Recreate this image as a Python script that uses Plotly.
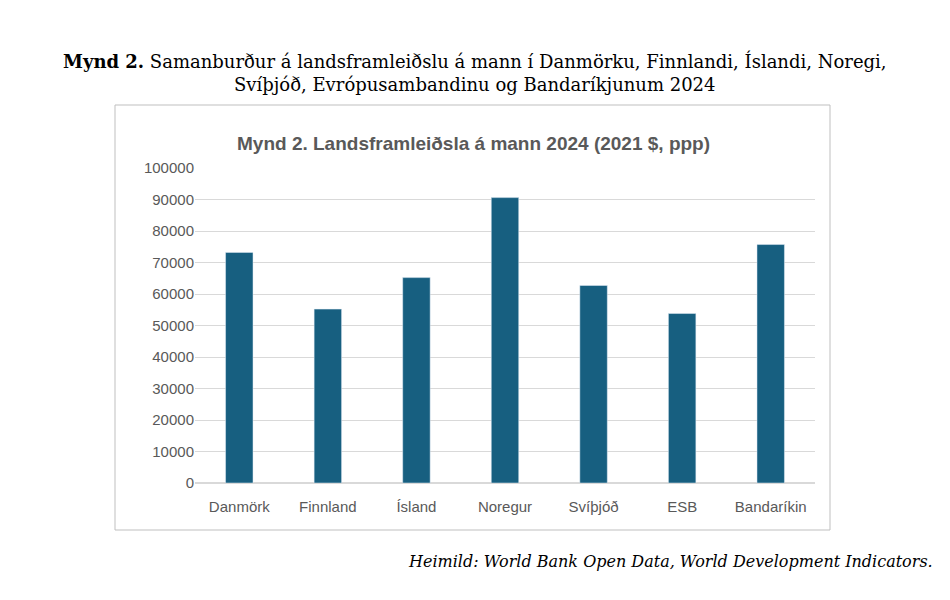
import plotly.graph_objects as go

countries = ["Danmörk", "Finnland", "Ísland", "Noregur", "Svíþjóð", "ESB", "Bandaríkin"]
gdp_per_capita = [73200, 55200, 65200, 90600, 62700, 53800, 75700]
y_ticks = list(range(0, 100001, 10000))

W, H = 950, 600
OFF = 8  # page body margin
L, R, T, B = 195 - OFF, 135 + OFF, 168 - OFF, 117 + OFF
pw, ph = W - L - R, H - T - B

def px(x):  # screen pixel x -> paper
    return (x - OFF - L) / pw

def py(y):  # screen pixel y -> paper
    return (H - B - (y - OFF)) / ph

fig = go.Figure(go.Bar(
    x=countries, y=gdp_per_capita,
    marker=dict(color="#175f80"),
))

fig.update_layout(
    width=W, height=H, autosize=False,
    margin=dict(l=L, r=R, t=T, b=B),
    plot_bgcolor="white", paper_bgcolor="white",
    bargap=0.69, showlegend=False,
    font=dict(family="Liberation Sans, Arial", color="#595959", size=15),
    xaxis=dict(showline=False, ticks="outside", ticklen=10, tickcolor="rgba(0,0,0,0)",
               tickfont=dict(size=15)),
    yaxis=dict(range=[0, 100000], tickvals=y_ticks, tickformat="d",
               showgrid=True, gridcolor="#d9d9d9", zeroline=True,
               zerolinecolor="#d9d9d9", ticks="", tickfont=dict(size=15)),
    shapes=[dict(type="rect", xref="paper", yref="paper",
                 x0=px(115), x1=px(830), y0=py(530), y1=py(105),
                 line=dict(color="#bfbfbf", width=1), layer="below")],
    annotations=[
        dict(text="<b>Mynd 2.</b> Samanburður á landsframleiðslu á mann í Danmörku, Finnlandi, Íslandi, Noregi,<br>Svíþjóð, Evrópusambandinu og Bandaríkjunum 2024",
             xref="paper", yref="paper", x=px(475), y=py(48), showarrow=False,
             font=dict(family="DejaVu Serif", size=18, color="black"), align="center"),
        dict(text="<b>Mynd 2. Landsframleiðsla á mann 2024 (2021 $, ppp)</b>",
             xref="paper", yref="paper", x=px(473), y=py(131), showarrow=False,
             font=dict(size=19, color="#595959")),
        dict(text="<i>Heimild: World Bank Open Data, World Development Indicators.</i>",
             xref="paper", yref="paper", x=px(935), y=py(573), xanchor="right", showarrow=False,
             font=dict(family="DejaVu Serif", size=16, color="black")),
    ],
)

fig.write_html("out.html")
